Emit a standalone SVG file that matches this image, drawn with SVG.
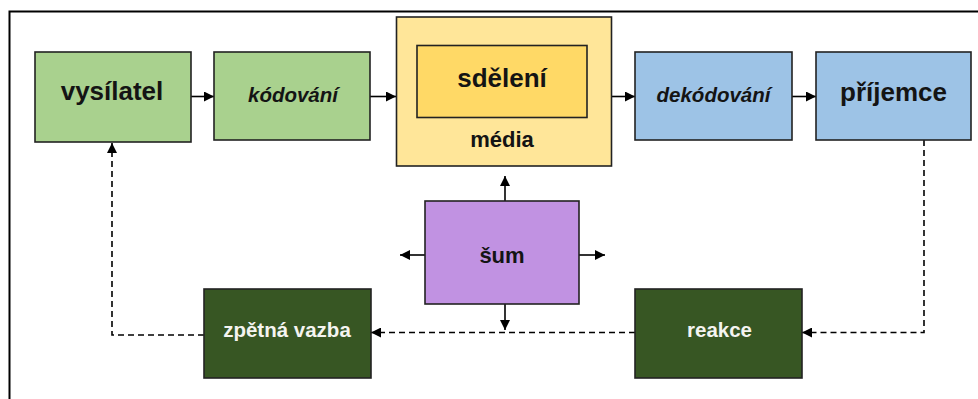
<svg xmlns="http://www.w3.org/2000/svg" width="978" height="399" viewBox="0 0 978 399">
<defs>
<style>
.box{stroke:#222;stroke-width:1.6}
.t{font-family:"Liberation Sans",Arial,sans-serif;font-weight:bold;fill:#141414;text-anchor:middle}
.ti{font-style:italic}
.w{fill:#f4f4f0}
.sol{stroke:#000;stroke-width:1.6;fill:none}
.dash{stroke:#000;stroke-width:1.6;fill:none;stroke-dasharray:6 4}
</style>
<marker id="ah" viewBox="0 0 10 10" refX="10" refY="5" markerWidth="10" markerHeight="10" markerUnits="userSpaceOnUse" orient="auto">
<path d="M0,0 L10,5 L0,10 z" fill="#000"/>
</marker>
</defs>
<rect x="0" y="0" width="978" height="399" fill="#fff"/>
<rect x="9.5" y="11.5" width="990" height="420" fill="none" stroke="#000" stroke-width="2"/>

<g id="connectors">
<line class="sol" x1="191" y1="96.5" x2="214" y2="96.5" marker-end="url(#ah)"/>
<line class="sol" x1="370" y1="96.5" x2="396" y2="96.5" marker-end="url(#ah)"/>
<line class="sol" x1="612" y1="96.5" x2="635" y2="96.5" marker-end="url(#ah)"/>
<line class="sol" x1="792" y1="96.5" x2="816" y2="96.5" marker-end="url(#ah)"/>
<line class="sol" x1="505" y1="201" x2="505" y2="176" marker-end="url(#ah)"/>
<line class="sol" x1="425" y1="255" x2="400" y2="255" marker-end="url(#ah)"/>
<line class="sol" x1="579" y1="255" x2="605" y2="255" marker-end="url(#ah)"/>
<line class="sol" x1="505" y1="304" x2="505" y2="330" marker-end="url(#ah)"/>
<polyline class="dash" points="924,140 924,332.5 802,332.5" marker-end="url(#ah)"/>
<line class="dash" x1="635" y1="332.5" x2="371" y2="332.5" marker-end="url(#ah)"/>
<polyline class="dash" points="204,335 112,335 112,143" marker-end="url(#ah)"/>
</g>

<g id="vysilatel">
<rect class="box" x="35" y="52" width="156" height="90" fill="#A9D18E"/>
<text class="t" x="112" y="100" font-size="26">vysílatel</text>
</g>
<g id="kodovani">
<rect class="box" x="214" y="52" width="156" height="88" fill="#A9D18E"/>
<text class="t ti" x="293" y="102" font-size="20.5">kódování</text>
</g>
<g id="media">
<rect class="box" x="396.5" y="17" width="215" height="149" fill="#FFE699"/>
<text class="t" x="502" y="147" font-size="22">média</text>
</g>
<g id="sdeleni">
<rect class="box" x="417" y="45.5" width="170" height="72" fill="#FFD966"/>
<text class="t" x="502" y="87" font-size="26">sdělení</text>
</g>
<g id="dekodovani">
<rect class="box" x="635" y="52" width="157" height="88" fill="#9DC3E6"/>
<text class="t ti" x="713.5" y="102" font-size="20.5">dekódování</text>
</g>
<g id="prijemce">
<rect class="box" x="816" y="52" width="155" height="88" fill="#9DC3E6"/>
<text class="t" x="893.5" y="101" font-size="26">příjemce</text>
</g>
<g id="sum">
<rect class="box" x="425" y="201" width="154" height="103" fill="#C192E2"/>
<text class="t" x="502" y="263" font-size="22">šum</text>
</g>
<g id="zpetna-vazba">
<rect class="box" x="204" y="289" width="167" height="89" fill="#375623"/>
<text class="t w" x="287" y="337" font-size="20.5">zpětná vazba</text>
</g>
<g id="reakce">
<rect class="box" x="635" y="289" width="167" height="89" fill="#375623"/>
<text class="t w" x="719.5" y="337" font-size="20.5">reakce</text>
</g>
</svg>
